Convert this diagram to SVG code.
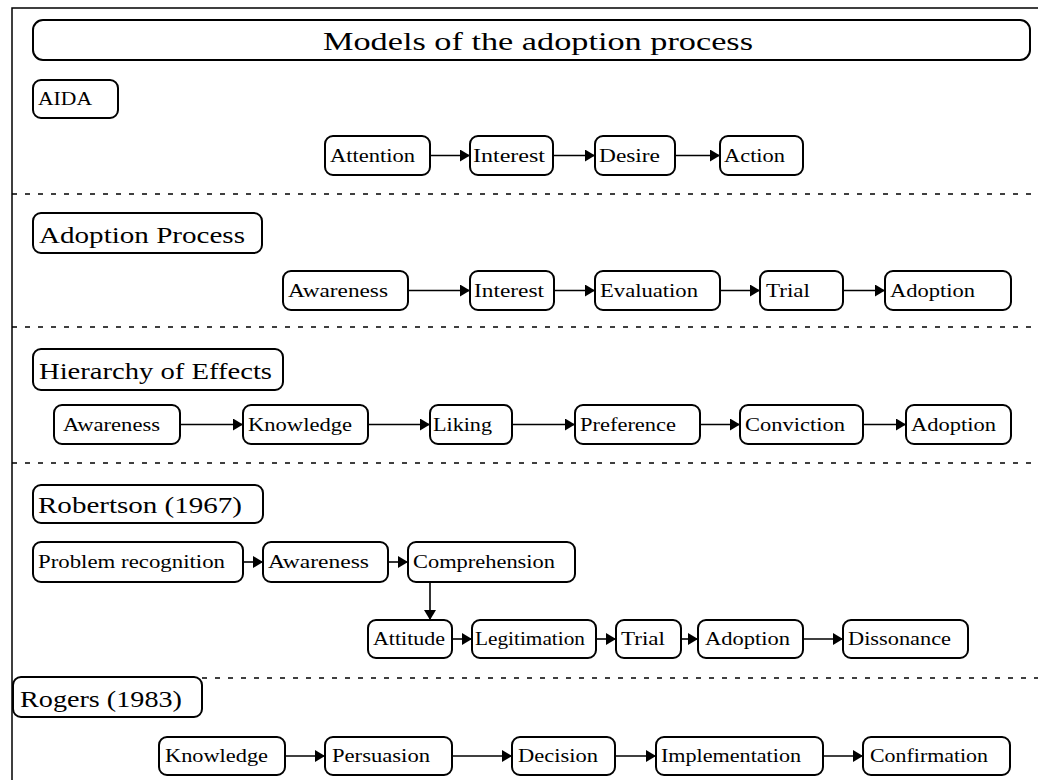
<svg xmlns="http://www.w3.org/2000/svg" width="1038" height="780" viewBox="0 0 1038 780">
<style>
.bx{fill:#fff;stroke:#000;stroke-width:2}
.t{font-family:"Liberation Serif","Times New Roman",serif;font-size:18px;fill:#000}
.h{font-family:"Liberation Serif","Times New Roman",serif;font-size:24px;fill:#000}
.ti{font-family:"Liberation Serif","Times New Roman",serif;font-size:26px;fill:#000}
.c{stroke:#000;stroke-width:1.6;fill:none;marker-end:url(#ah)}
.d{stroke:#000;stroke-width:1.5;stroke-dasharray:5 8;fill:none}
.f{stroke:#000;stroke-width:1.5;fill:none}
</style>
<defs>
<marker id="ah" markerUnits="userSpaceOnUse" markerWidth="11" markerHeight="13" refX="10" refY="6" orient="auto">
<path d="M0,0 L10,6 L0,12 z" fill="#000"/>
</marker>
</defs>
<rect width="1038" height="780" fill="#fff"/>
<g id="frame">
<path class="f" d="M12,780 L12,8 L1038,8"/>
<path class="d" d="M12,194 H1038 M12,327 H1038 M12,463 H1038 M202,678 H1038"/>
</g>
<g id="title"><rect class="bx" x="33" y="20" width="997" height="40" rx="10"/><text class="ti" x="323" y="50" textLength="430" lengthAdjust="spacingAndGlyphs">Models of the adoption process</text></g>

<g id="aida-label"><rect class="bx" x="33" y="80" width="85" height="38" rx="8"/><text class="t" x="38" y="105" textLength="54" lengthAdjust="spacingAndGlyphs">AIDA</text></g>
<g id="aida-attention"><rect class="bx" x="325" y="136" width="105" height="39" rx="8"/><text class="t" x="330" y="162" textLength="85" lengthAdjust="spacingAndGlyphs">Attention</text></g>
<g id="aida-interest"><rect class="bx" x="470" y="136" width="83" height="39" rx="8"/><text class="t" x="473" y="162" textLength="72" lengthAdjust="spacingAndGlyphs">Interest</text></g>
<g id="aida-desire"><rect class="bx" x="595" y="136" width="80" height="39" rx="8"/><text class="t" x="599" y="162" textLength="61" lengthAdjust="spacingAndGlyphs">Desire</text></g>
<g id="aida-action"><rect class="bx" x="720" y="136" width="83" height="39" rx="8"/><text class="t" x="724" y="162" textLength="61" lengthAdjust="spacingAndGlyphs">Action</text></g>

<g id="ap-label"><rect class="bx" x="33" y="213" width="229" height="40" rx="8"/><text class="h" x="39" y="243" textLength="206" lengthAdjust="spacingAndGlyphs">Adoption Process</text></g>
<g id="ap-awareness"><rect class="bx" x="283" y="271" width="125" height="39" rx="8"/><text class="t" x="288" y="297" textLength="100" lengthAdjust="spacingAndGlyphs">Awareness</text></g>
<g id="ap-interest"><rect class="bx" x="470" y="271" width="84" height="39" rx="8"/><text class="t" x="474" y="297" textLength="70" lengthAdjust="spacingAndGlyphs">Interest</text></g>
<g id="ap-evaluation"><rect class="bx" x="595" y="271" width="125" height="39" rx="8"/><text class="t" x="600" y="297" textLength="98" lengthAdjust="spacingAndGlyphs">Evaluation</text></g>
<g id="ap-trial"><rect class="bx" x="760" y="271" width="83" height="39" rx="8"/><text class="t" x="766" y="297" textLength="44" lengthAdjust="spacingAndGlyphs">Trial</text></g>
<g id="ap-adoption"><rect class="bx" x="885" y="271" width="126" height="39" rx="8"/><text class="t" x="890" y="297" textLength="85" lengthAdjust="spacingAndGlyphs">Adoption</text></g>

<g id="he-label"><rect class="bx" x="33" y="349" width="250" height="41" rx="8"/><text class="h" x="39" y="379" textLength="233" lengthAdjust="spacingAndGlyphs">Hierarchy of Effects</text></g>
<g id="he-awareness"><rect class="bx" x="54" y="405" width="126" height="39" rx="8"/><text class="t" x="63" y="431" textLength="97" lengthAdjust="spacingAndGlyphs">Awareness</text></g>
<g id="he-knowledge"><rect class="bx" x="243" y="405" width="125" height="39" rx="8"/><text class="t" x="248" y="431" textLength="104" lengthAdjust="spacingAndGlyphs">Knowledge</text></g>
<g id="he-liking"><rect class="bx" x="430" y="405" width="82" height="39" rx="8"/><text class="t" x="433" y="431" textLength="59" lengthAdjust="spacingAndGlyphs">Liking</text></g>
<g id="he-preference"><rect class="bx" x="575" y="405" width="125" height="39" rx="8"/><text class="t" x="580" y="431" textLength="96" lengthAdjust="spacingAndGlyphs">Preference</text></g>
<g id="he-conviction"><rect class="bx" x="740" y="405" width="123" height="39" rx="8"/><text class="t" x="745" y="431" textLength="100" lengthAdjust="spacingAndGlyphs">Conviction</text></g>
<g id="he-adoption"><rect class="bx" x="906" y="405" width="105" height="39" rx="8"/><text class="t" x="911" y="431" textLength="85" lengthAdjust="spacingAndGlyphs">Adoption</text></g>

<g id="rb-label"><rect class="bx" x="33" y="485" width="230" height="38" rx="8"/><text class="h" x="38" y="513" textLength="204" lengthAdjust="spacingAndGlyphs">Robertson (1967)</text></g>
<g id="rb-problem"><rect class="bx" x="33" y="542" width="210" height="40" rx="8"/><text class="t" x="38" y="568" textLength="187" lengthAdjust="spacingAndGlyphs">Problem recognition</text></g>
<g id="rb-awareness"><rect class="bx" x="263" y="542" width="125" height="40" rx="8"/><text class="t" x="268" y="568" textLength="101" lengthAdjust="spacingAndGlyphs">Awareness</text></g>
<g id="rb-comprehension"><rect class="bx" x="408" y="542" width="167" height="40" rx="8"/><text class="t" x="413" y="568" textLength="142" lengthAdjust="spacingAndGlyphs">Comprehension</text></g>
<g id="rb-attitude"><rect class="bx" x="368" y="620" width="84" height="38" rx="8"/><text class="t" x="373" y="645" textLength="72" lengthAdjust="spacingAndGlyphs">Attitude</text></g>
<g id="rb-legitimation"><rect class="bx" x="472" y="620" width="124" height="38" rx="8"/><text class="t" x="475" y="645" textLength="110" lengthAdjust="spacingAndGlyphs">Legitimation</text></g>
<g id="rb-trial"><rect class="bx" x="616" y="620" width="65" height="38" rx="8"/><text class="t" x="621" y="645" textLength="44" lengthAdjust="spacingAndGlyphs">Trial</text></g>
<g id="rb-adoption"><rect class="bx" x="698" y="620" width="105" height="38" rx="8"/><text class="t" x="705" y="645" textLength="85" lengthAdjust="spacingAndGlyphs">Adoption</text></g>
<g id="rb-dissonance"><rect class="bx" x="843" y="620" width="125" height="38" rx="8"/><text class="t" x="848" y="645" textLength="103" lengthAdjust="spacingAndGlyphs">Dissonance</text></g>

<g id="rg-label"><rect class="bx" x="13" y="677" width="189" height="40" rx="8"/><text class="h" x="20" y="707" textLength="162" lengthAdjust="spacingAndGlyphs">Rogers (1983)</text></g>
<g id="rg-knowledge"><rect class="bx" x="159" y="737" width="126" height="38" rx="8"/><text class="t" x="165" y="762" textLength="103" lengthAdjust="spacingAndGlyphs">Knowledge</text></g>
<g id="rg-persuasion"><rect class="bx" x="325" y="737" width="127" height="38" rx="8"/><text class="t" x="332" y="762" textLength="98" lengthAdjust="spacingAndGlyphs">Persuasion</text></g>
<g id="rg-decision"><rect class="bx" x="512" y="737" width="103" height="38" rx="8"/><text class="t" x="518" y="762" textLength="80" lengthAdjust="spacingAndGlyphs">Decision</text></g>
<g id="rg-implementation"><rect class="bx" x="656" y="737" width="167" height="38" rx="8"/><text class="t" x="661" y="762" textLength="140" lengthAdjust="spacingAndGlyphs">Implementation</text></g>
<g id="rg-confirmation"><rect class="bx" x="863" y="737" width="147" height="38" rx="8"/><text class="t" x="870" y="762" textLength="118" lengthAdjust="spacingAndGlyphs">Confirmation</text></g>

<g id="connectors">
<path class="c" d="M430,155.5 H470"/>
<path class="c" d="M553,155.5 H595"/>
<path class="c" d="M675,155.5 H720"/>
<path class="c" d="M408,290.5 H470"/>
<path class="c" d="M554,290.5 H595"/>
<path class="c" d="M720,290.5 H760"/>
<path class="c" d="M843,290.5 H885"/>
<path class="c" d="M180,424.5 H243"/>
<path class="c" d="M368,424.5 H430"/>
<path class="c" d="M512,424.5 H575"/>
<path class="c" d="M700,424.5 H740"/>
<path class="c" d="M863,424.5 H906"/>
<path class="c" d="M243,562 H263"/>
<path class="c" d="M388,562 H408"/>
<path class="c" d="M430,582 V620"/>
<path class="c" d="M452,639 H472"/>
<path class="c" d="M596,639 H616"/>
<path class="c" d="M681,639 H698"/>
<path class="c" d="M803,639 H843"/>
<path class="c" d="M285,756 H325"/>
<path class="c" d="M452,756 H512"/>
<path class="c" d="M615,756 H656"/>
<path class="c" d="M823,756 H863"/>
</g>
</svg>
